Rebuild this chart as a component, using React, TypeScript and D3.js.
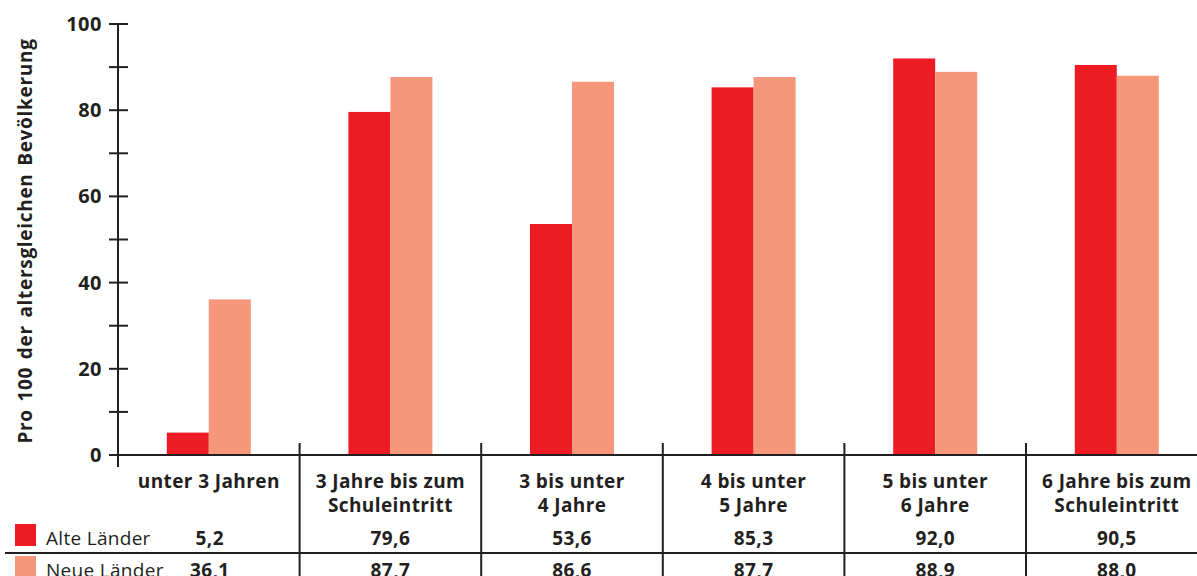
import { useEffect, useRef } from "react";
import * as d3 from "d3";

const categories = [
  ["unter 3 Jahren"],
  ["3 Jahre bis zum", "Schuleintritt"],
  ["3 bis unter", "4 Jahre"],
  ["4 bis unter", "5 Jahre"],
  ["5 bis unter", "6 Jahre"],
  ["6 Jahre bis zum", "Schuleintritt"],
];
const alteLaender = [5.2, 79.6, 53.6, 85.3, 92.0, 90.5];
const neueLaender = [36.1, 87.7, 86.6, 87.7, 88.9, 88.0];
const seriesNames = ["Alte Länder", "Neue Länder"];
const yTicks = [0, 20, 40, 60, 80, 100];

export default function App() {
  const svgRef = useRef<SVGSVGElement>(null);

  useEffect(() => {
    const W = 1197;
    const H = 576;
    const svg = d3.select(svgRef.current);
    svg.selectAll("*").remove();
    svg.attr("width", W).attr("height", H).style("display", "block");

    const font = "'Open Sans', 'DejaVu Sans', sans-serif";
    const ink = "#231f20";
    const colors = ["#ed1c24", "#f5977a"];

    const x0 = 118;
    const bandW = 181.6;
    const x = d3.scaleBand<number>()
      .domain(d3.range(categories.length))
      .range([x0, x0 + bandW * categories.length])
      .padding(0);
    const xs = d3.scaleBand<number>()
      .domain([0, 1])
      .range([x.bandwidth() / 2 - 42, x.bandwidth() / 2 + 42]);

    const y = d3.scaleLinear().domain([0, 100]).range([455, 24]);

    // bars
    const series = [alteLaender, neueLaender];
    const g = svg.append("g");
    series.forEach((vals, s) => {
      g.selectAll(null)
        .data(vals)
        .join("rect")
        .attr("x", (d, i) => x(i)! + xs(s)!)
        .attr("width", xs.bandwidth())
        .attr("y", d => y(d))
        .attr("height", d => y(0) - y(d))
        .attr("fill", colors[s]);
    });

    // baseline
    svg.append("line")
      .attr("x1", x0).attr("x2", W)
      .attr("y1", y(0)).attr("y2", y(0))
      .attr("stroke", ink).attr("stroke-width", 2);

    // y axis
    svg.append("line")
      .attr("x1", x0).attr("x2", x0)
      .attr("y1", y(100)).attr("y2", 467)
      .attr("stroke", ink).attr("stroke-width", 2);

    const allTicks = d3.range(0, 101, 10);
    svg.selectAll(null)
      .data(allTicks)
      .join("line")
      .attr("x1", x0 - 9).attr("x2", x0 + 10)
      .attr("y1", d => y(d)).attr("y2", d => y(d))
      .attr("stroke", ink).attr("stroke-width", 2);

    svg.selectAll(null)
      .data(yTicks)
      .join("text")
      .attr("x", 102)
      .attr("y", d => y(d) + 7)
      .attr("text-anchor", "end")
      .attr("font-family", font)
      .attr("font-weight", 700)
      .attr("font-size", 20)
      .attr("letter-spacing", 0.5)
      .attr("fill", ink)
      .text(d => d);

    svg.append("text")
      .attr("transform", `translate(32,${241}) rotate(-90)`)
      .attr("text-anchor", "middle")
      .attr("font-family", font)
      .attr("font-weight", 700)
      .attr("font-size", 19)
      .attr("letter-spacing", 0.7)
      .attr("word-spacing", 2)
      .attr("fill", ink)
      .text("Pro 100 der altersgleichen Bevölkerung");

    // table dividers
    svg.selectAll(null)
      .data(d3.range(1, categories.length))
      .join("line")
      .attr("x1", i => x(i)!).attr("x2", i => x(i)!)
      .attr("y1", 443).attr("y2", H)
      .attr("stroke", ink).attr("stroke-width", 2);

    svg.append("line")
      .attr("x1", 5).attr("x2", W)
      .attr("y1", 553).attr("y2", 553)
      .attr("stroke", ink).attr("stroke-width", 2);

    // category labels
    categories.forEach((lines, i) => {
      const t = svg.append("text")
        .attr("text-anchor", "middle")
        .attr("font-family", font)
        .attr("font-weight", 700)
        .attr("font-size", 19)
        .attr("letter-spacing", 0.4)
        .attr("fill", ink);
      lines.forEach((ln, k) => {
        t.append("tspan")
          .attr("x", x(i)! + x.bandwidth() / 2)
          .attr("y", 488 + k * 24)
          .text(ln);
      });
    });

    // legend rows + values
    const rowY = [538, 570];
    series.forEach((vals, s) => {
      svg.append("rect")
        .attr("x", 15).attr("y", rowY[s] - 14)
        .attr("width", 21).attr("height", 22)
        .attr("fill", colors[s]);
      svg.append("text")
        .attr("x", 46).attr("y", rowY[s] + 7)
        .attr("font-family", font)
        .attr("font-size", 19)
        .attr("letter-spacing", 0.3)
        .attr("fill", ink)
        .text(seriesNames[s]);
      svg.selectAll(null)
        .data(vals)
        .join("text")
        .attr("x", (d, i) => x(i)! + x.bandwidth() / 2 - (i === 0 ? -1 : 0))
        .attr("y", rowY[s] + 7)
        .attr("text-anchor", "middle")
        .attr("font-family", font)
        .attr("font-weight", 700)
        .attr("font-size", 19)
        .attr("letter-spacing", 0.4)
        .attr("fill", ink)
        .text(d => d3.format(".1f")(d).replace(".", ","));
    });
  }, []);

  return <svg ref={svgRef} style={{ position: "absolute", left: 0, top: 0 }} />;
}
